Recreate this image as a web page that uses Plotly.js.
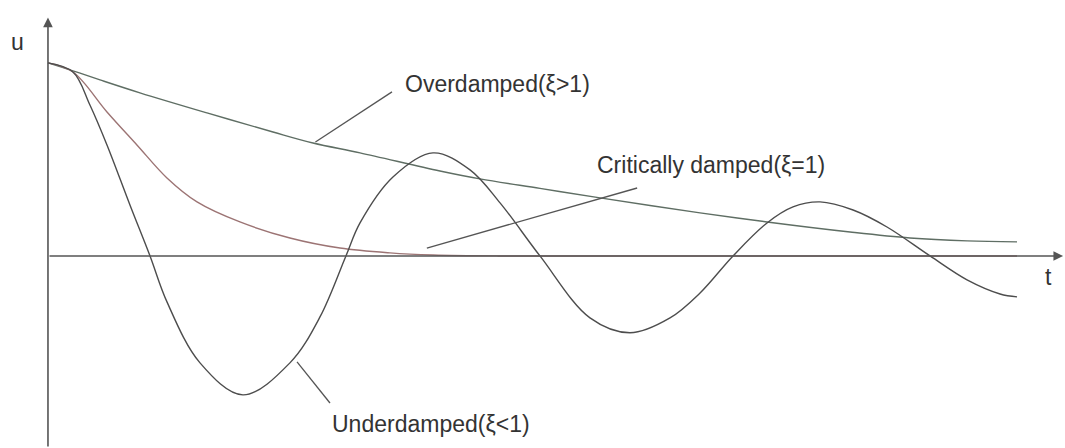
<!DOCTYPE html>
<html>
<head>
<meta charset="utf-8">
<script src="https://cdn.plot.ly/plotly-3.0.1.min.js"></script>
<style>html,body{margin:0;padding:0;background:#fff;}#chart{width:1065px;height:448px;}</style>
</head>
<body>
<div id="chart"></div>
<script>
// Time (t) and displacement (u)
const underT = [0, 0.258, 0.433, 0.609, 0.846, 1.053, 1.228, 1.569, 2.012, 2.497, 2.807, 3.075, 3.220, 3.560, 3.973, 4.355, 4.665, 5.077, 5.593, 6.006, 6.419, 6.729, 7.069, 7.420, 7.688, 7.967, 8.308, 8.658, 9.102, 9.484, 9.825, 10.0];
const underU = [1.000, 0.953, 0.782, 0.575, 0.264, 0.000, -0.238, -0.554, -0.720, -0.554, -0.316, 0.000, 0.171, 0.409, 0.534, 0.446, 0.275, 0.000, -0.321, -0.398, -0.321, -0.192, 0.000, 0.171, 0.254, 0.280, 0.238, 0.150, 0.000, -0.124, -0.197, -0.212];

const critT = [0, 0.258, 0.609, 0.918, 1.228, 1.538, 1.981, 2.497, 3.013, 3.529, 3.973, 4.66, 6.0, 8.0, 10.0];
const critU = [1.000, 0.953, 0.746, 0.575, 0.404, 0.280, 0.176, 0.093, 0.041, 0.016, 0.005, 0.000, 0.000, 0.000, 0.000];

const overT = [0, 0.258, 0.537, 0.949, 1.641, 2.322, 2.735, 3.220, 4.045, 4.458, 5.077, 5.697, 6.729, 7.420, 8.277, 8.896, 9.484, 10.0];
const overU = [1.000, 0.959, 0.912, 0.845, 0.741, 0.642, 0.585, 0.534, 0.440, 0.399, 0.350, 0.301, 0.223, 0.176, 0.124, 0.093, 0.078, 0.073];

const curveNames = ["Underdamped(ξ<1)", "Critically damped(ξ=1)", "Overdamped(ξ>1)"];
const axisLabels = ["t", "u"];

const font = {family: "Liberation Sans, Arial, sans-serif", size: 23, color: "#333"};

const traces = [
  {x: overT, y: overU, mode: "lines", name: curveNames[2], line: {color: "#5f6e64", width: 1.4, shape: "spline", smoothing: 1}, hoverinfo: "none"},
  {x: critT, y: critU, mode: "lines", name: curveNames[1], line: {color: "#9c7474", width: 1.4, shape: "spline", smoothing: 1}, hoverinfo: "none"},
  {x: underT, y: underU, mode: "lines", name: curveNames[0], line: {color: "#4d4d4d", width: 1.4, shape: "spline", smoothing: 1}, hoverinfo: "none"}
];

const axisColor = "#555";
const layout = {
  width: 1065, height: 448,
  margin: {l: 0, r: 0, t: 0, b: 0},
  paper_bgcolor: "#fff", plot_bgcolor: "#fff",
  showlegend: false,
  xaxis: {range: [-0.495, 10.495], visible: false, fixedrange: true},
  yaxis: {range: [-0.995, 1.326], visible: false, fixedrange: true},
  shapes: [
    {type: "line", x0: 2.76, y0: 0.59, x1: 3.55, y1: 0.85, line: {color: "#555", width: 1.3}},
    {type: "line", x0: 3.91, y0: 0.041, x1: 6.08, y1: 0.352, line: {color: "#555", width: 1.3}},
    {type: "line", x0: 2.57, y0: -0.549, x1: 2.91, y1: -0.762, line: {color: "#555", width: 1.3}}
  ],
  annotations: [
    {x: 0, y: 1.235, ax: 0, ay: -0.995, xref: "x", yref: "y", axref: "x", ayref: "y", showarrow: true, arrowhead: 2, arrowsize: 1.2, arrowwidth: 1.6, arrowcolor: axisColor, text: ""},
    {x: 10.475, y: 0, ax: 0, ay: 0, xref: "x", yref: "y", axref: "x", ayref: "y", showarrow: true, arrowhead: 2, arrowsize: 1.2, arrowwidth: 1.6, arrowcolor: axisColor, text: ""},
    {x: -0.31, y: 1.109, text: axisLabels[1], showarrow: false, font: font},
    {x: 10.32, y: -0.109, text: axisLabels[0], showarrow: false, font: font},
    {x: 3.664, y: 0.891, text: curveNames[2], xanchor: "left", showarrow: false, font: font},
    {x: 5.645, y: 0.4715, text: curveNames[1], xanchor: "left", showarrow: false, font: font},
    {x: 2.91, y: -0.870, text: curveNames[0], xanchor: "left", showarrow: false, font: font}
  ]
};

Plotly.newPlot("chart", traces, layout, {staticPlot: true, displayModeBar: false});
</script>
</body>
</html>
